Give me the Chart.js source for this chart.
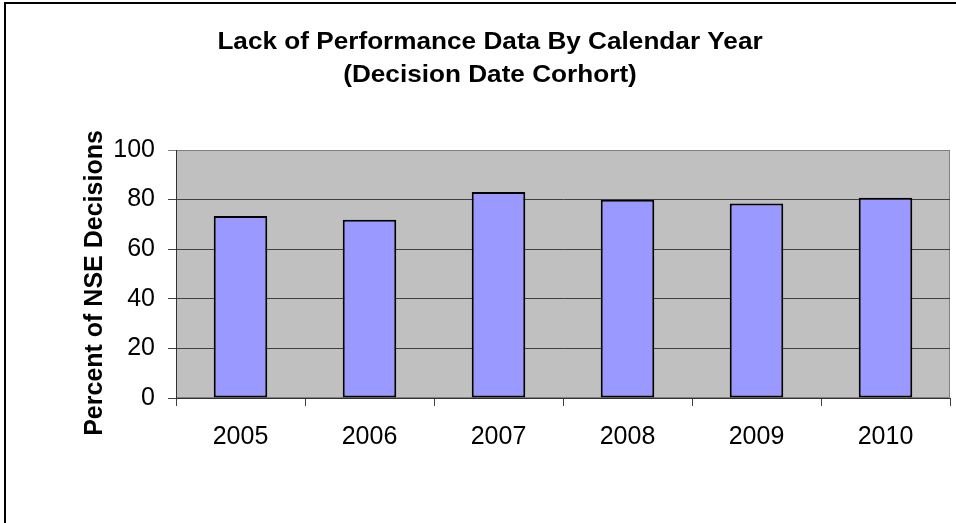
<!DOCTYPE html>
<html>
<head>
<meta charset="utf-8">
<script src="https://cdn.jsdelivr.net/npm/chart.js@4/dist/chart.umd.min.js"></script>
<style>
  html, body { margin: 0; padding: 0; background: #fff; }
  #wrap { width: 956px; height: 523px; position: relative; }
</style>
</head>
<body>
<div id="wrap"><canvas id="chart"></canvas></div>
<script>
// Lack of performance data chart, Excel-style bar chart

const years = ['2005', '2006', '2007', '2008', '2009', '2010'];
const pctNoData = [73.4, 71.9, 83.1, 79.9, 78.4, 80.7];
const yTicks = [0, 20, 40, 60, 80, 100];
const titleLines = ['Lack of Performance Data By Calendar Year', '(Decision Date Corhort)'];
const yTitle = 'Percent of NSE Decisions';

const FONT = '"Liberation Sans", Arial, sans-serif';

// Paint white page, outer frame, gray plot area, titles
const excelFrame = {
  id: 'excelFrame',
  beforeDraw(chart) {
    const { ctx, chartArea: a } = chart;
    ctx.save();
    ctx.fillStyle = '#fff';
    ctx.fillRect(0, 0, chart.width, chart.height);
    // outer border (cut off at right/bottom like the reference)
    ctx.strokeStyle = '#000';
    ctx.lineWidth = 2;
    ctx.strokeRect(5, 3, 1000, 1000);
    // plot area
    ctx.fillStyle = '#C0C0C0';
    ctx.fillRect(a.left, a.top, a.right - a.left, a.bottom - a.top);
    ctx.strokeStyle = '#808080';
    ctx.lineWidth = 1;
    ctx.strokeRect(a.left + 0.5, a.top + 0.5, a.right - a.left - 1, a.bottom - a.top - 1);
    ctx.restore();
  },
  afterDraw(chart) {
    const { ctx } = chart;
    ctx.save();
    ctx.fillStyle = '#000';
    ctx.font = 'bold 24px ' + FONT;
    ctx.textAlign = 'center';
    ctx.textBaseline = 'alphabetic';
    // the reference title is a little wide, stretch it sideways
    ctx.save();
    ctx.translate(490, 0);
    ctx.scale(1.09, 1);
    ctx.fillText(titleLines[0], 0, 48.5);
    ctx.fillText(titleLines[1], 0, 82);
    ctx.restore();
    // y axis title
    ctx.font = 'bold 25px ' + FONT;
    ctx.translate(95, 283);
    ctx.rotate(-Math.PI / 2);
    ctx.textBaseline = 'middle';
    ctx.fillText(yTitle, 0, 0);
    ctx.restore();
  }
};

new Chart(document.getElementById('chart'), {
  type: 'bar',
  data: {
    labels: years,
    datasets: [{
      data: pctNoData,
      backgroundColor: '#9999FF',
      borderColor: '#000',
      borderWidth: 2,
      borderSkipped: false,
      barPercentage: 0.415,
      categoryPercentage: 1
    }]
  },
  options: {
    responsive: true,
    maintainAspectRatio: false,
    animation: false,
    layout: { padding: { top: 150, left: 0, right: 6, bottom: 0 } },
    plugins: {
      legend: { display: false },
      title: { display: false },
      tooltip: { enabled: false }
    },
    scales: {
      x: {
        afterFit: s => { s.height = 125; },
        grid: {
          offset: true,
          drawOnChartArea: false,
          tickLength: 8,
          color: '#404040'
        },
        border: { color: '#333', width: 1 },
        ticks: {
          padding: 16,
          color: '#000',
          font: { family: FONT, size: 25 }
        }
      },
      y: {
        min: 0,
        max: 100,
        afterFit: s => { s.width = 176; },
        afterBuildTicks: s => { s.ticks = yTicks.map(v => ({ value: v })); },
        grid: {
          tickLength: 8,
          color: ctx => ctx.tick && ctx.tick.value === 100 ? '#808080' : '#404040'
        },
        border: { color: '#333', width: 1 },
        ticks: {
          padding: 13,
          color: '#000',
          font: { family: FONT, size: 25 }
        }
      }
    }
  },
  plugins: [excelFrame]
});
</script>
</body>
</html>
